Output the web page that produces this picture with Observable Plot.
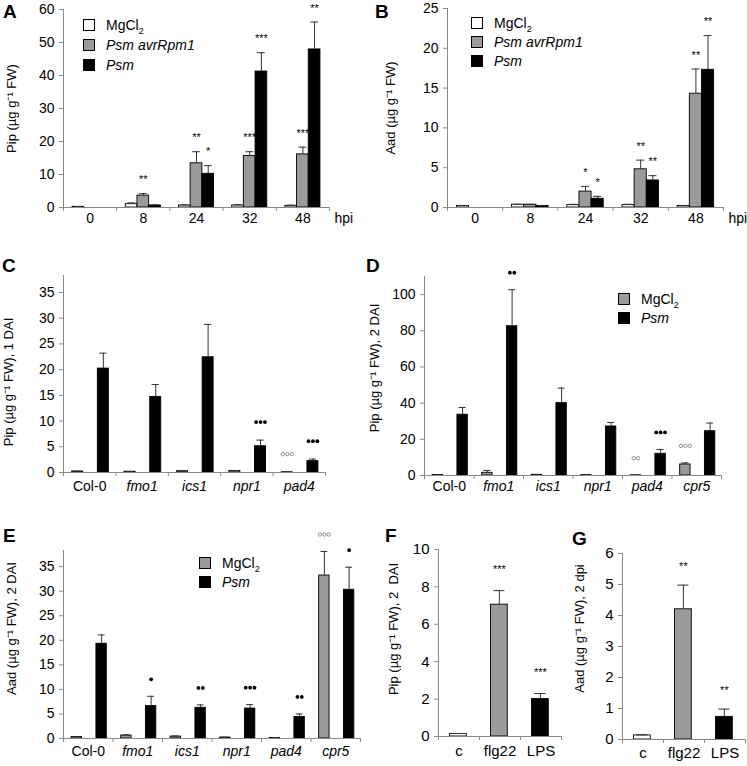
<!DOCTYPE html>
<html><head><meta charset="utf-8">
<script src="https://cdn.jsdelivr.net/npm/d3@7"></script>
<script src="https://cdn.jsdelivr.net/npm/@observablehq/plot@0.6"></script>
<style>
body{margin:0;background:#fff;font-family:"Liberation Sans",Arial,Helvetica,sans-serif;}
#fig{position:relative;width:747px;height:766px;overflow:hidden;background:#fff;}
.letter{position:absolute;font-weight:bold;font-size:19px;line-height:19px;color:#000;}
.leg{position:absolute;font-size:14px;line-height:14px;display:flex;align-items:center;white-space:nowrap;}
.sw{width:12px;height:12px;border:1px solid #000;box-sizing:border-box;margin-right:11px;}
</style></head><body><div id="fig"></div>
<script>
// ---------- DATA ----------
// Panel A: Pip (µg/g FW) time course
const hpiLabels = ["0", "8", "24", "32", "48"];
const seriesNames = ["MgCl2", "Psm avrRpm1", "Psm"];
const pipA_MgCl2 = [0.2, 1.0, 0.6, 0.6, 0.5];
const pipA_MgCl2Err = [0.1, 0.4, 0.2, 0.3, 0.2];
const pipA_Avr = [null, 3.6, 13.4, 15.6, 16.1];
const pipA_AvrErr = [null, 0.6, 3.5, 1.3, 2.2];
const pipA_Psm = [null, 0.6, 10.2, 41.2, 47.9];
const pipA_PsmErr = [null, 0.2, 2.5, 5.7, 8.3];
const pipA_AvrSig = ["", "**", "**", "***", "***"];
const pipA_PsmSig = ["", "", "*", "***", "**"];
const pipA_Ticks = [0, 10, 20, 30, 40, 50, 60];

// Panel B: Aad time course
const aadB_MgCl2 = [0.2, 0.35, 0.3, 0.3, 0.2];
const aadB_MgCl2Err = [0.05, 0.05, 0.1, 0.1, 0.05];
const aadB_Avr = [null, 0.35, 2.0, 4.8, 14.3];
const aadB_AvrErr = [null, 0.05, 0.65, 1.15, 3.1];
const aadB_Psm = [null, 0.2, 1.1, 3.4, 17.3];
const aadB_PsmErr = [null, 0.05, 0.3, 0.6, 4.3];
const aadB_AvrSig = ["", "", "*", "**", "**"];
const aadB_PsmSig = ["", "", "*", "**", "**"];
const aadB_Ticks = [0, 5, 10, 15, 20, 25];

// Panel C: Pip 1 DAI in mutants
const genotypesC = ["Col-0", "fmo1", "ics1", "npr1", "pad4"];
const pipC_MgCl2 = [0.2, 0.15, 0.25, 0.3, 0.05];
const pipC_MgCl2Err = [0.05, 0.05, 0.05, 0.05, 0.02];
const pipC_Psm = [20.2, 14.7, 22.4, 5.1, 2.2];
const pipC_PsmErr = [3.0, 2.4, 6.4, 1.2, 0.4];
const pipC_MgCl2Sig = ["", "", "", "", "○○○"];
const pipC_PsmSig = ["", "", "", "●●●", "●●●"];
const pipC_Ticks = [0, 5, 10, 15, 20, 25, 30, 35];

// Panel D: Pip 2 DAI in mutants
const genotypesDE = ["Col-0", "fmo1", "ics1", "npr1", "pad4", "cpr5"];
const pipD_MgCl2 = [0.3, 1.5, 0.4, 0.2, 0.1, 6.1];
const pipD_MgCl2Err = [0.1, 1.3, 0.1, 0.1, 0.05, 0.9];
const pipD_Psm = [33.6, 82.5, 40.0, 27.1, 12.0, 24.5];
const pipD_PsmErr = [4.0, 20.2, 8.3, 2.2, 2.4, 4.5];
const pipD_MgCl2Sig = ["", "", "", "", "○○", "○○○"];
const pipD_PsmSig = ["", "●●", "", "", "●●●", ""];
const pipD_Ticks = [0, 20, 40, 60, 80, 100];

// Panel E: Aad 2 DAI in mutants
const aadE_MgCl2 = [0.3, 0.6, 0.4, 0.2, 0.1, 33.2];
const aadE_MgCl2Err = [0.05, 0.15, 0.1, 0.05, 0.05, 4.9];
const aadE_Psm = [19.3, 6.6, 6.25, 6.1, 4.4, 30.3];
const aadE_PsmErr = [1.8, 2.0, 0.6, 0.8, 0.6, 4.6];
const aadE_MgCl2Sig = ["", "", "", "", "", "○○○"];
const aadE_PsmSig = ["", "●", "●●", "●●●", "●●", "●"];
const aadE_Ticks = [0, 5, 10, 15, 20, 25, 30, 35];

// Panels F, G: PAMP treatments
const treatments = ["c", "flg22", "LPS"];
const pipF = [0.13, 7.05, 2.0];
const pipF_Err = [0.03, 0.75, 0.3];
const pipF_Sig = ["", "***", "***"];
const pipF_Ticks = [0, 2, 4, 6, 8, 10];
const aadG = [0.13, 4.2, 0.73];
const aadG_Err = [0.02, 0.78, 0.25];
const aadG_Sig = ["", "**", "**"];
const aadG_Ticks = [0, 1, 2, 3, 4, 5, 6];

// ---------- DRAWING ----------
const FONT = '"Liberation Sans", Arial, Helvetica, sans-serif';
const WHITE = "#ffffff", GRAY = "#9a9a9a", BLACK = "#000000", AXIS = "#8a8a8a";
const fig = document.getElementById("fig");

function panel(cfg) {
  const n = cfg.groups.length;
  const fs = cfg.fontSize || 14;
  const rows = [];
  cfg.series.forEach((s) => {
    s.values.forEach((v, i) => {
      if (v == null) return;
      const x1 = i + s.start, x2 = x1 + cfg.barW;
      const e = s.errors[i] || 0;
      rows.push({i, x1, x2, xc: (x1 + x2) / 2, v, e, top: v + e,
        key: s.keyByGroup ? cfg.groups[i] : s.name, sig: s.sig ? s.sig[i] : ""});
    });
  });
  const cap = cfg.barW * 0.33;
  const frameW = cfg.width - cfg.marginLeft - cfg.marginRight;
  const dotStep = 4.4 / (frameW / n);
  const filled = [], open = [];
  rows.forEach(r => {
    if (!r.sig || r.sig.includes("*")) return;
    const chars = [...r.sig];
    chars.forEach((c, k) => {
      const d = {x: r.xc + (k - (chars.length - 1) / 2) * dotStep, top: r.top};
      (c === "●" ? filled : open).push(d);
    });
  });
  const stars = rows.filter(r => r.sig && r.sig.includes("*"));
  const labelRows = cfg.groups.map((g, i) => ({x: i + 0.5, label: g}));
  const italicRows = labelRows.filter(d => cfg.italic && cfg.italic(d.label));
  const normalRows = labelRows.filter(d => !(cfg.italic && cfg.italic(d.label)));

  const marks = [
    Plot.rectY(rows, {x1: "x1", x2: "x2", y1: 0, y2: "v", fill: "key", stroke: BLACK, strokeWidth: 0.9}),
    Plot.ruleX(rows.filter(r => r.e > 0), {x: "xc", y1: "v", y2: "top", stroke: "#333", strokeWidth: 1}),
    Plot.ruleY(rows.filter(r => r.e > 0), {y: "top", x1: r => r.xc - cap, x2: r => r.xc + cap, stroke: "#333", strokeWidth: 1}),
    Plot.ruleY([0], {stroke: AXIS}),
    Plot.ruleX([0], {stroke: AXIS}),
    Plot.axisY(cfg.ticks, {tickSize: 4, tickPadding: 5, fontSize: fs, label: null, stroke: AXIS, fill: BLACK}),
    Plot.axisX(d3.range(n + 1), {tickSize: 4, tickFormat: () => "", label: null, stroke: AXIS}),
    Plot.text(normalRows, {x: "x", text: "label", frameAnchor: "bottom", dy: cfg.labelDy, fontSize: fs, fill: BLACK}),
    Plot.text(italicRows, {x: "x", text: "label", frameAnchor: "bottom", dy: cfg.labelDy, fontSize: fs, fontStyle: "italic", fill: BLACK}),
    Plot.text([cfg.ylabel], {frameAnchor: "left", textAnchor: "middle", lineAnchor: "middle", rotate: -90, dx: cfg.ylabelDx, dy: cfg.ylabelDy, fontSize: 13, fill: BLACK}),
    Plot.text(stars, {x: "xc", y: "top", text: "sig", dy: -(cfg.sigOff - 3), fontSize: 11, fill: BLACK}),
    Plot.dot(filled, {x: "x", y: "top", dy: -cfg.sigOff, r: 1.9, fill: BLACK, stroke: "none"}),
    Plot.dot(open, {x: "x", y: "top", dy: -cfg.sigOff, r: 1.7, fill: "none", stroke: "#777", strokeWidth: 0.8})
  ];
  if (cfg.xunit) marks.push(Plot.text([cfg.xunit], {frameAnchor: "bottom-right", dx: 5, dy: cfg.labelDy, textAnchor: "start", fontSize: fs, fill: BLACK}));

  const svg = Plot.plot({
    width: cfg.width, height: cfg.height,
    marginLeft: cfg.marginLeft, marginRight: cfg.marginRight,
    marginTop: cfg.marginTop, marginBottom: cfg.marginBottom,
    x: {domain: [0, n]},
    y: {domain: cfg.yDomain},
    color: {domain: cfg.colorDomain, range: cfg.colorRange},
    style: {fontFamily: FONT, fontSize: "14px", background: "transparent", overflow: "visible", color: "#000"},
    marks
  });
  svg.style.position = "absolute";
  svg.style.left = cfg.left + "px";
  svg.style.top = cfg.top + "px";
  fig.appendChild(svg);
}

function letter(t, left, top) {
  const d = document.createElement("div");
  d.className = "letter"; d.textContent = t;
  d.style.left = left + "px"; d.style.top = top + "px";
  fig.appendChild(d);
}
function legend(left, items) {
  items.forEach(it => {
    const d = document.createElement("div");
    d.className = "leg";
    d.style.left = left + "px"; d.style.top = (it.y - 7) + "px";
    const sw = document.createElement("div");
    sw.className = "sw"; sw.style.background = it.color;
    const t = document.createElement("span");
    t.innerHTML = it.html;
    if (it.italic) t.style.fontStyle = "italic";
    d.appendChild(sw); d.appendChild(t);
    fig.appendChild(d);
  });
}
const isMutant = g => g !== "Col-0";
const seriesColors = [WHITE, GRAY, BLACK];
const SUB2 = "MgCl<sub style='font-size:9px;line-height:0'>2</sub>";

// A
panel({left: 0, top: 0, width: 370, height: 240, marginLeft: 63, marginRight: 41, marginTop: 9, marginBottom: 33,
  groups: hpiLabels, yDomain: [0, 60], ticks: pipA_Ticks, barW: 0.22, labelDy: 15, xunit: "hpi",
  ylabel: "Pip (µg g⁻¹ FW)", ylabelDx: -52, ylabelDy: 0, sigOff: 17,
  colorDomain: seriesNames, colorRange: seriesColors,
  series: [
    {name: seriesNames[0], values: pipA_MgCl2, errors: pipA_MgCl2Err, start: 0.17},
    {name: seriesNames[1], values: pipA_Avr, errors: pipA_AvrErr, sig: pipA_AvrSig, start: 0.39},
    {name: seriesNames[2], values: pipA_Psm, errors: pipA_PsmErr, sig: pipA_PsmSig, start: 0.61}
  ]});
// B
panel({left: 370, top: 0, width: 377, height: 240, marginLeft: 77, marginRight: 24, marginTop: 8, marginBottom: 33,
  groups: hpiLabels, yDomain: [0, 25], ticks: aadB_Ticks, barW: 0.22, labelDy: 15, xunit: "hpi",
  ylabel: "Aad (µg g⁻¹ FW)", ylabelDx: -57, ylabelDy: 0, sigOff: 17,
  colorDomain: seriesNames, colorRange: seriesColors,
  series: [
    {name: seriesNames[0], values: aadB_MgCl2, errors: aadB_MgCl2Err, start: 0.17},
    {name: seriesNames[1], values: aadB_Avr, errors: aadB_AvrErr, sig: aadB_AvrSig, start: 0.39},
    {name: seriesNames[2], values: aadB_Psm, errors: aadB_PsmErr, sig: aadB_PsmSig, start: 0.61}
  ]});
// C
panel({left: 0, top: 255, width: 370, height: 255, marginLeft: 63, marginRight: 45, marginTop: 20, marginBottom: 38,
  groups: genotypesC, italic: isMutant, yDomain: [0, 38.3], ticks: pipC_Ticks, barW: 0.21, labelDy: 18,
  ylabel: "Pip (µg g⁻¹ FW), 1 DAI", ylabelDx: -55, ylabelDy: 8, sigOff: 18,
  colorDomain: ["MgCl2", "Psm"], colorRange: [GRAY, BLACK],
  series: [
    {name: "MgCl2", values: pipC_MgCl2, errors: pipC_MgCl2Err, sig: pipC_MgCl2Sig, start: 0.165},
    {name: "Psm", values: pipC_Psm, errors: pipC_PsmErr, sig: pipC_PsmSig, start: 0.655}
  ]});
// D
panel({left: 370, top: 255, width: 377, height: 255, marginLeft: 54, marginRight: 26, marginTop: 21, marginBottom: 35,
  groups: genotypesDE, italic: isMutant, yDomain: [0, 110], ticks: pipD_Ticks, barW: 0.21, labelDy: 15,
  ylabel: "Pip (µg g⁻¹ FW), 2 DAI", ylabelDx: -50, ylabelDy: -8, sigOff: 17,
  colorDomain: ["MgCl2", "Psm"], colorRange: [GRAY, BLACK],
  series: [
    {name: "MgCl2", values: pipD_MgCl2, errors: pipD_MgCl2Err, sig: pipD_MgCl2Sig, start: 0.165},
    {name: "Psm", values: pipD_Psm, errors: pipD_PsmErr, sig: pipD_PsmSig, start: 0.665}
  ]});
// E
panel({left: 0, top: 510, width: 370, height: 256, marginLeft: 63, marginRight: 10, marginTop: 40, marginBottom: 28,
  groups: genotypesDE, italic: isMutant, yDomain: [0, 38.3], ticks: aadE_Ticks, barW: 0.21, labelDy: 17,
  ylabel: "Aad (µg g⁻¹ FW), 2 DAI", ylabelDx: -52, ylabelDy: -16, sigOff: 17,
  colorDomain: ["MgCl2", "Psm"], colorRange: [GRAY, BLACK],
  series: [
    {name: "MgCl2", values: aadE_MgCl2, errors: aadE_MgCl2Err, sig: aadE_MgCl2Sig, start: 0.165},
    {name: "Psm", values: aadE_Psm, errors: aadE_PsmErr, sig: aadE_PsmSig, start: 0.665}
  ]});
// F
panel({left: 370, top: 510, width: 200, height: 256, marginLeft: 68, marginRight: 9, marginTop: 39, marginBottom: 30,
  groups: treatments, yDomain: [0, 10], ticks: pipF_Ticks, barW: 0.41, labelDy: 19, fontSize: 15,
  ylabel: "Pip (µg g⁻¹ FW), 2  DAI", ylabelDx: -45, ylabelDy: -14, sigOff: 24,
  colorDomain: treatments, colorRange: [WHITE, GRAY, BLACK],
  series: [{name: "F", values: pipF, errors: pipF_Err, sig: pipF_Sig, start: 0.28, keyByGroup: true}]});
// G
panel({left: 560, top: 510, width: 187, height: 256, marginLeft: 62, marginRight: 2, marginTop: 43, marginBottom: 27,
  groups: treatments, yDomain: [0, 6], ticks: aadG_Ticks, barW: 0.41, labelDy: 18, fontSize: 15,
  ylabel: "Aad (µg g⁻¹ FW), 2 dpi", ylabelDx: -43, ylabelDy: -18, sigOff: 22,
  colorDomain: treatments, colorRange: [WHITE, GRAY, BLACK],
  series: [{name: "G", values: aadG, errors: aadG_Err, sig: aadG_Sig, start: 0.28, keyByGroup: true}]});

// Legends
legend(83, [
  {html: SUB2, color: WHITE, y: 25},
  {html: "Psm avrRpm1", color: GRAY, y: 45, italic: true},
  {html: "Psm", color: BLACK, y: 65, italic: true}
]);
legend(471, [
  {html: SUB2, color: WHITE, y: 23},
  {html: "Psm avrRpm1", color: GRAY, y: 42, italic: true},
  {html: "Psm", color: BLACK, y: 61, italic: true}
]);
legend(618, [
  {html: SUB2, color: GRAY, y: 299},
  {html: "Psm", color: BLACK, y: 318, italic: true}
]);
legend(199, [
  {html: SUB2, color: GRAY, y: 563},
  {html: "Psm", color: BLACK, y: 582, italic: true}
]);

// Panel letters
letter("A", 3, 2);
letter("B", 375, 2);
letter("C", 2, 256);
letter("D", 366, 256);
letter("E", 3, 526);
letter("F", 385, 526);
letter("G", 572, 529);
</script></body></html>
